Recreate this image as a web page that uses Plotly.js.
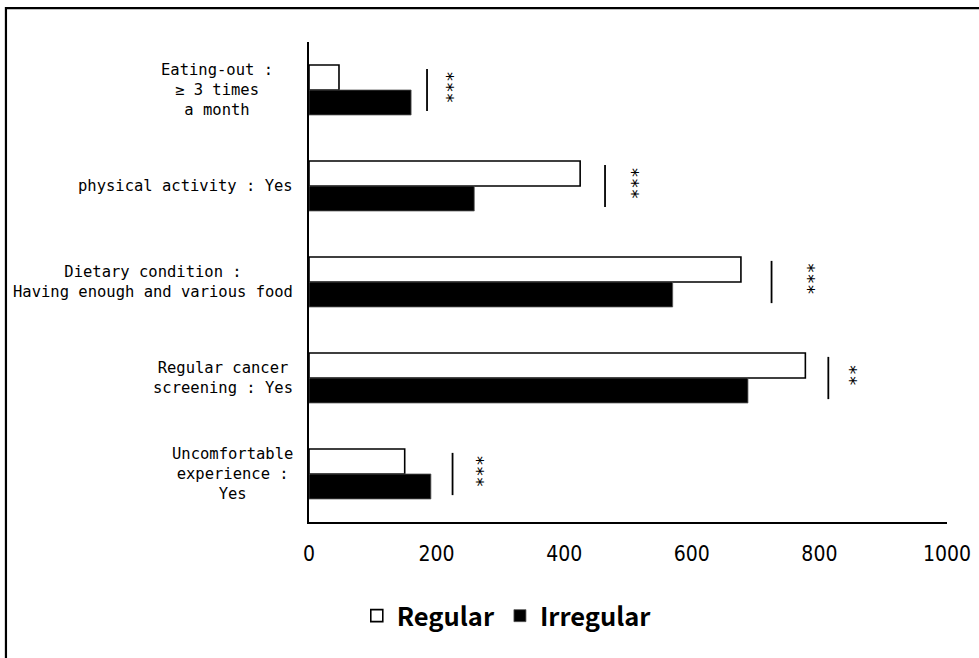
<!DOCTYPE html>
<html>
<head>
<meta charset="utf-8">
<script src="https://cdn.plot.ly/plotly-3.0.1.min.js"></script>
<style>html,body{margin:0;padding:0;background:#fff;}#chart{width:979px;height:658px;}</style>
</head>
<body>
<div id="chart"></div>
<script>
// ---- data ----
const categories = [
  "Eating-out :<br>≥ 3 times<br>a month",
  "physical activity : Yes",
  "Dietary condition :<br>Having enough and various food",
  "Regular cancer<br>screening : Yes",
  "Uncomfortable<br>experience :<br>Yes"
];
const seriesNames = ["Regular", "Irregular"];
const regular = [47, 425, 677, 778, 150];
const irregular = [160, 259, 570, 688, 191];
const sigLineX = [185, 464, 725, 814, 225];
const sigStarX = [218, 508, 783, 849, 265];
const sigLabels = ["***", "***", "***", "**", "***"];
const xTicks = [0, 200, 400, 600, 800, 1000];

// ---- chart ----
const labelFont = {family: "DejaVu Sans Mono, Liberation Mono, monospace", size: 15.5, color: "#000"};
const traces = [
  {type: "bar", orientation: "h", name: seriesNames[0], y: categories, x: regular,
   marker: {color: "#ffffff", line: {color: "#000000", width: 1.6}}, hoverinfo: "x"},
  {type: "bar", orientation: "h", name: seriesNames[1], y: categories, x: irregular,
   marker: {color: "#000000", line: {color: "#555555", width: 0.8}}, hoverinfo: "x"}
];

const shapes = [];
const annotations = [];
const labelShift = [-20, 0, 0, 0, 0];
categories.forEach((c, i) => {
  shapes.push({type: "line", xref: "x", yref: "y", x0: sigLineX[i], x1: sigLineX[i],
    y0: i - 0.22, y1: i + 0.22, line: {color: "#000", width: 1.8}});
  annotations.push({xref: "x", yref: "y", x: sigStarX[i], y: i, text: sigLabels[i],
    textangle: 90, showarrow: false, yshift: 3,
    font: {family: "DejaVu Sans Mono, monospace", size: 18, color: "#000"}});
  annotations.push({xref: "paper", yref: "y", x: -0.022, y: i, text: c, xanchor: "right",
    align: "center", showarrow: false, xshift: labelShift[i], font: labelFont});
});
// outer frame
shapes.push({type: "path", xref: "paper", yref: "paper",
  path: "M -0.475,-0.29 L -0.475,1.0707 L 1.06,1.0707", line: {color: "#000", width: 2.2}});

const layout = {
  width: 979, height: 658,
  margin: {l: 309, r: 32, t: 42, b: 136},
  paper_bgcolor: "#ffffff", plot_bgcolor: "#ffffff",
  barmode: "group", bargap: 0.48, bargroupgap: 0,
  showlegend: true,
  legend: {orientation: "h", x: 0.31, xanchor: "center", y: -0.196, yanchor: "middle",
    font: {family: "Noto Sans CJK KR, Noto Sans, sans-serif", size: 25.5, color: "#000", weight: "bold"},
    itemwidth: 30, traceorder: "normal"},
  xaxis: {range: [0, 1000], tickvals: xTicks, ticktext: xTicks.map(String), showgrid: false,
    zeroline: false, showline: true, linecolor: "#000", linewidth: 1.8, ticks: "",
    ticklabelstandoff: 12,
    tickfont: {family: "DejaVu Sans Condensed, Liberation Sans Narrow, sans-serif", size: 21, color: "#000"}},
  yaxis: {type: "category", categoryorder: "array", categoryarray: categories,
    range: [4.5, -0.5], showticklabels: false, showgrid: false, zeroline: false,
    showline: true, linecolor: "#000", linewidth: 1.8, ticks: ""},
  shapes: shapes,
  annotations: annotations
};

Plotly.newPlot("chart", traces, layout, {displayModeBar: false, staticPlot: true});
</script>
</body>
</html>
